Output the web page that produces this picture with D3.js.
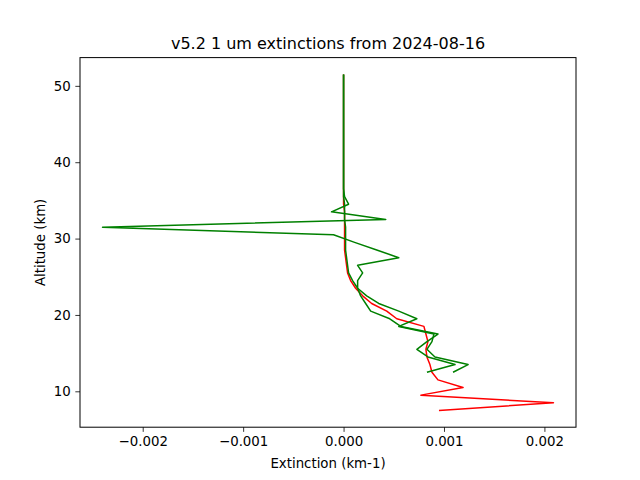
<!DOCTYPE html>
<html>
<head>
<meta charset="utf-8">
<script src="https://cdn.jsdelivr.net/npm/d3@7"></script>
<style>
  body { margin: 0; background: #fff; }
  svg { display: block; font-family: "DejaVu Sans", sans-serif; }
</style>
</head>
<body>
<svg id="chart" width="640" height="480"></svg>
<script>
// ---- Data ----
const titleText = "v5.2 1 um extinctions from 2024-08-16";
const xLabel = "Extinction (km-1)";
const yLabel = "Altitude (km)";

const redAltitudes = [7.5, 8.5, 9.5, 10.5, 11.5, 12.5, 13.5, 14.5, 15.5, 16.5, 17.5, 18.5, 19.5, 20.5,
  21.5, 22.5, 23.5, 24.5, 25.5, 26.5, 27.5, 28.5, 29.5, 30.5, 31.5, 32.5, 33.5, 34.5, 35.5, 36.5,
  37.5, 38.5, 39.5, 40.5, 41.5, 42.5, 43.5, 44.5, 45.5, 46.5, 47.5, 48.5, 49.5, 50.5, 51.5];
const redValues = [0.00095, 0.00209, 0.00077, 0.00119, 0.00094, 0.00088, 0.00086, 0.00083, 0.00082, 0.00084,
  0.00082, 0.00080, 0.00053, 0.00043, 0.00028, 0.00019, 0.00012, 0.00007, 0.00004, 0.00003,
  0.00002, 0.00001, 0.00001, 0.00001, 0.00001, 0.00001, 0.00001, 0.0, 0.0, 0.0,
  0.0, 0.0, 0.0, 0.0, 0.0, 0.0, 0.0, 0.0, 0.0, 0.0, 0.0, 0.0, 0.0, 0.0, 0.0];

const greenAltitudes = [12.5, 13.5, 14.5, 15.5, 16.5, 17.5, 18.5, 19.5, 20.5,
  21.5, 22.5, 23.5, 24.5, 25.5, 26.5, 27.5, 28.5, 29.5, 30.5, 31.5, 32.5, 33.5, 34.5, 35.5, 36.5,
  37.5, 38.5, 39.5, 40.5, 41.5, 42.5, 43.5, 44.5, 45.5, 46.5, 47.5, 48.5, 49.5, 50.5, 51.5];
const greenNoisyValues = [0.00083, 0.00111, 0.00084, 0.00073, 0.00083, 0.00094, 0.00057, 0.00046, 0.00027,
  0.00022, 0.00017, 0.00014, 0.00014, 0.00019, 0.00014, 0.00055, 0.00033, 0.00011, -0.00010, -0.00240,
  0.00042, -0.00012, 0.00005, 0.00001, 0.0,
  0.0, 0.0, 0.0, 0.0, 0.0, 0.0, 0.0, 0.0, 0.0, 0.0, 0.0, 0.0, 0.0, 0.0, 0.0];
const greenSmoothValues = [0.00109, 0.00124, 0.00091, 0.00083, 0.00088, 0.00090, 0.00055, 0.00073, 0.00055,
  0.00035, 0.00023, 0.00014, 0.00009, 0.00005, 0.00004, 0.00003, 0.00002, 0.00002, 0.00002, 0.00002,
  0.00001, 0.00001, 0.00001, 0.0, 0.0,
  0.0, 0.0, 0.0, 0.0, 0.0, 0.0, 0.0, 0.0, 0.0, 0.0, 0.0, 0.0, 0.0, 0.0, 0.0];

const xTicks = [-0.002, -0.001, 0.000, 0.001, 0.002];
const yTicks = [10, 20, 30, 40, 50];

// ---- Layout ----
const W = 640, H = 480;
const plot = { left: 80, right: 576, top: 57.6, bottom: 427.2 };

const svg = d3.select("#chart");

const allX = redValues.concat(greenNoisyValues, greenSmoothValues);
const allY = redAltitudes.concat(greenAltitudes);
const [xmin, xmax] = d3.extent(allX);
const [ymin, ymax] = d3.extent(allY);
const xm = (xmax - xmin) * 0.05, ym = (ymax - ymin) * 0.05;

const x = d3.scaleLinear().domain([xmin - xm, xmax + xm]).range([plot.left, plot.right]);
const y = d3.scaleLinear().domain([ymin - ym, ymax + ym]).range([plot.bottom, plot.top]);

const line = d3.line().x(d => x(d[0])).y(d => y(d[1]));

const series = [
  { vals: redValues, alts: redAltitudes, color: "#ff0000" },
  { vals: greenSmoothValues, alts: greenAltitudes, color: "#008000" },
  { vals: greenNoisyValues, alts: greenAltitudes, color: "#008000" }
];

const clip = svg.append("clipPath").attr("id", "clip").append("rect")
  .attr("x", plot.left).attr("y", plot.top)
  .attr("width", plot.right - plot.left).attr("height", plot.bottom - plot.top);

const g = svg.append("g").attr("clip-path", "url(#clip)");
series.forEach(s => {
  g.append("path")
    .datum(s.vals.map((v, i) => [v, s.alts[i]]))
    .attr("d", line)
    .attr("fill", "none")
    .attr("stroke", s.color)
    .attr("stroke-width", 1.5)
    .attr("stroke-linejoin", "round")
    .attr("stroke-linecap", "butt");
});

// Axes
const fmt = d3.format(".3f");
const xAxis = d3.axisBottom(x).tickValues(xTicks).tickFormat(fmt).tickSize(4.67).tickPadding(4.67);
const yAxis = d3.axisLeft(y).tickValues(yTicks).tickFormat(d3.format("d")).tickSize(4.67).tickPadding(4.67);

const gx = svg.append("g").attr("transform", `translate(0,${plot.bottom})`).call(xAxis);
const gy = svg.append("g").attr("transform", `translate(${plot.left},0)`).call(yAxis);
[gx, gy].forEach(a => {
  a.select(".domain").remove();
  a.selectAll(".tick line").attr("stroke", "#000").attr("stroke-width", 0.8);
  a.selectAll(".tick text").attr("fill", "#000").style("font-size", "13.33px").style("font-family", "DejaVu Sans, sans-serif");
});

// Frame
svg.append("rect")
  .attr("x", plot.left).attr("y", plot.top)
  .attr("width", plot.right - plot.left).attr("height", plot.bottom - plot.top)
  .attr("fill", "none").attr("stroke", "#000").attr("stroke-width", 1);

// Texts
svg.append("text")
  .attr("x", (plot.left + plot.right) / 2).attr("y", 49)
  .attr("text-anchor", "middle")
  .style("font-size", "16px")
  .text(titleText);

svg.append("text")
  .attr("x", (plot.left + plot.right) / 2).attr("y", 468)
  .attr("text-anchor", "middle")
  .style("font-size", "13.33px")
  .text(xLabel);

svg.append("text")
  .attr("transform", `translate(45,${(plot.top + plot.bottom) / 2}) rotate(-90)`)
  .attr("text-anchor", "middle")
  .style("font-size", "13.33px")
  .text(yLabel);
</script>
</body>
</html>
